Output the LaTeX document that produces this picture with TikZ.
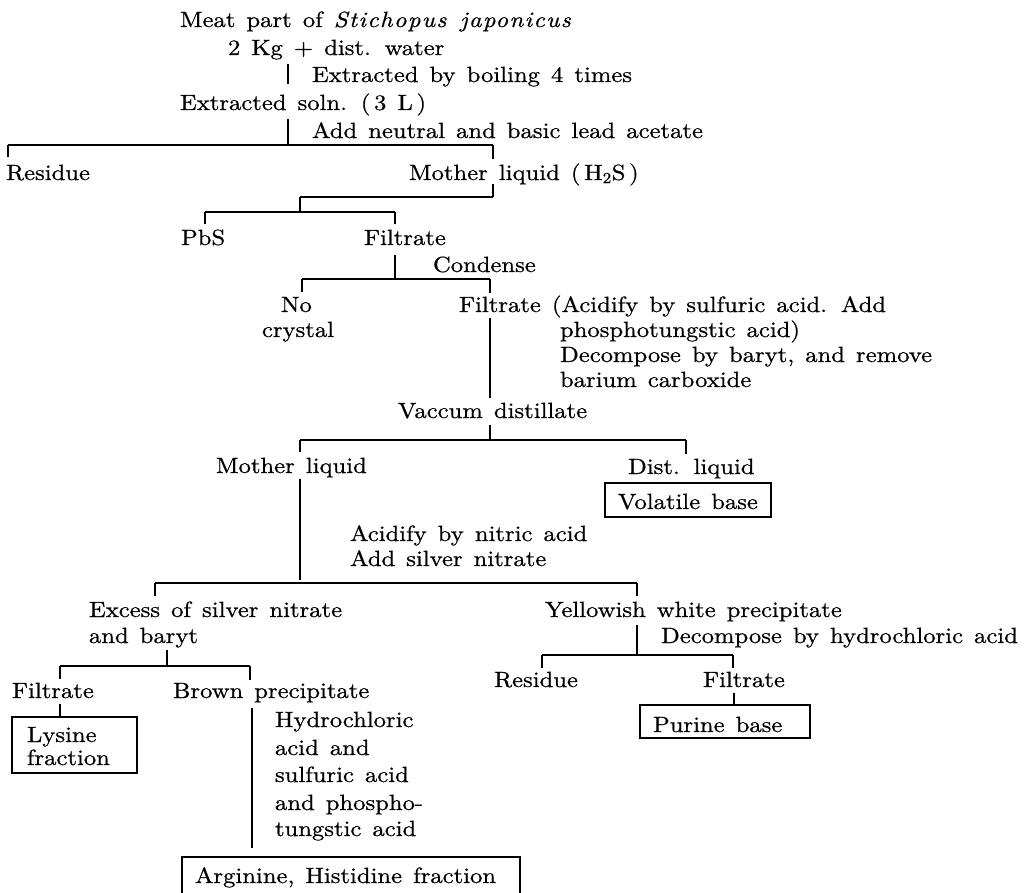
\documentclass[tikz,border=0pt]{standalone}
\usepackage{fontspec}
\setmainfont{lmroman10-regular.otf}[ItalicFont=lmroman10-italic.otf, FakeStretch=1.12, WordSpace=1.35, FakeBold=0.7]
\begin{document}
\begin{tikzpicture}[x=1pt,y=-1pt,
  txt/.style={anchor=base west,inner sep=0pt,outer sep=0pt,font=\fontsize{22}{26}\selectfont},
  ln/.style={line width=1.2pt,line cap=butt},
  tk/.style={line width=1.2pt}]
\fill[white] (0,0) rectangle (1034,893);
\useasboundingbox (0,0) rectangle (1034,893);

% ---------- texts ----------
\node[txt] (meat)  at (180,27)  {Meat part of \textit{\addfontfeature{LetterSpace=6}Stichopus japonicus}};
\node[txt] (kg)    at (228,55)  {2 Kg + dist. water};
\node[txt] (boil)  at (312,82)  {Extracted by boiling 4 times};
\node[txt] (soln)  at (180,110) {Extracted soln. (\,3 L\,)};
\node[txt] (lead)  at (312,138) {Add neutral and basic lead acetate};
\node[txt] (res1)  at (6,180)   {Residue};
\node[txt] (moth1) at (409,180) {Mother liquid (\,H\textsubscript{2}S\,)};
\node[txt] (pbs)   at (181,245) {PbS};
\node[txt] (filt1) at (364,245) {Filtrate};
\node[txt] (cond)  at (433,272) {Condense};
\node[txt] (no)    at (281,312) {No};
\node[txt] (cryst) at (262,337) {crystal};
\node[txt] (filt2) at (459,312) {Filtrate (Acidify by sulfuric acid. Add};
\node[txt] (phos)  at (560,337) {phosphotungstic acid)};
\node[txt] (decb)  at (560,362) {Decompose by baryt, and remove};
\node[txt] (bari)  at (560,387) {barium carboxide};
\node[txt] (vac)   at (398,418) {Vaccum distillate};
\node[txt] (moth2) at (216,473) {Mother liquid};
\node[txt] (dist)  at (628,474) {Dist. liquid};
\node[txt] (vola)  at (618,509) {Volatile base};
\node[txt] (nitr)  at (350,541) {Acidify by nitric acid};
\node[txt] (silv)  at (350,566) {Add silver nitrate};
\node[txt] (exc)   at (89,617)  {Excess of silver nitrate};
\node[txt] (bary)  at (89,643)  {and baryt};
\node[txt] (yel)   at (545,617) {Yellowish white precipitate};
\node[txt] (hcl)   at (661,643) {Decompose by hydrochloric acid};
\node[txt] (filt3) at (12,698)  {Filtrate};
\node[txt] (brown) at (173,698) {Brown precipitate};
\node[txt] (res2)  at (494,687) {Residue};
\node[txt] (filt4) at (703,687) {Filtrate};
\node[txt] (lys)   at (27,742)  {Lysine};
\node[txt] (frac)  at (27,765)  {fraction};
\node[txt] (hy1)   at (275,727) {Hydrochloric};
\node[txt] (hy2)   at (275,755) {acid and};
\node[txt] (hy3)   at (275,782) {sulfuric acid};
\node[txt] (hy4)   at (275,810) {and phospho-};
\node[txt] (hy5)   at (275,836) {tungstic acid};
\node[txt] (pur)   at (653,732) {Purine base};
\node[txt] (arg)   at (195,883) {Arginine, Histidine fraction};

% ---------- junction points ----------
\coordinate (L1w) at (8,145);   \coordinate (L1e) at (493,145);
\coordinate (L2w) at (300,197); \coordinate (L2e) at (493,197);
\coordinate (L3w) at (205,212); \coordinate (L3e) at (395,212);
\coordinate (L4w) at (302,279); \coordinate (L4e) at (490,279);
\coordinate (L5w) at (300,440); \coordinate (L5e) at (686,440);
\coordinate (L5m) at (490,440);
\coordinate (L6w) at (155,583); \coordinate (L6e) at (637,583);
\coordinate (L7w) at (60,666);  \coordinate (L7e) at (250,666);
\coordinate (L8w) at (542,655); \coordinate (L8e) at (733,655);

% ---------- connectors ----------
% extraction steps
\draw[ln] (288,64) -- (288,84);
\draw[ln] (288,119) -- (288,145);
% first split
\draw[ln] (L1w) -- (L1e);
\draw[tk] (L1w) -- ++(0,12);
\draw[tk] (L1e) -- ++(0,14);
% mother liquid -> PbS / Filtrate
\draw[tk] (493,184) -- (L2e);
\draw[ln] (L2w) -- (L2e);
\draw[tk] (L2w) -- (300,212);
\draw[ln] (L3w) -- (L3e);
\draw[tk] (L3w) -- ++(0,12);
\draw[tk] (L3e) -- ++(0,12);
% condense
\draw[ln] (395,255) -- (395,279);
\draw[ln] (L4w) -- (L4e);
\draw[tk] (L4w) -- ++(0,13);
\draw[tk] (L4e) -- ++(0,14);
% filtrate -> vaccum distillate
\draw[ln] (490,318) -- (490,398);
\draw[tk] (490,425) -- (L5m);
\draw[ln] (L5w) -- (L5e);
\draw[tk] (L5w) -- ++(0,12);
\draw[tk] (L5e) -- ++(0,14);
% mother liquid -> silver nitrate
\draw[ln] (300,479) -- (300,580);
\draw[ln] (L6w) -- (L6e);
\draw[tk] (L6w) -- ++(0,13);
\draw[tk] (L6e) -- ++(0,13);
% excess of silver nitrate split
\draw[tk] (167,650) -- (167,666);
\draw[ln] (L7w) -- (L7e);
\draw[tk] (L7w) -- ++(0,13);
\draw[tk] (L7e) -- ++(0,14);
\draw[tk] (60,704) -- (60,717);
\draw[ln] (252,708) -- (252,848);
% yellowish white precipitate split
\draw[ln] (637,625) -- (637,655);
\draw[ln] (L8w) -- (L8e);
\draw[tk] (L8w) -- ++(0,13);
\draw[tk] (L8e) -- ++(0,13);
\draw[tk] (734,693) -- (734,705);

% ---------- boxes ----------
\draw[ln] (605,483) rectangle (771,517);
\draw[ln] (12,717) rectangle (137,773);
\draw[ln] (640,705) rectangle (810,738);
\draw[ln] (182,893) -- (182,857) -- (520,857) -- (520,893);
\end{tikzpicture}
\end{document}
